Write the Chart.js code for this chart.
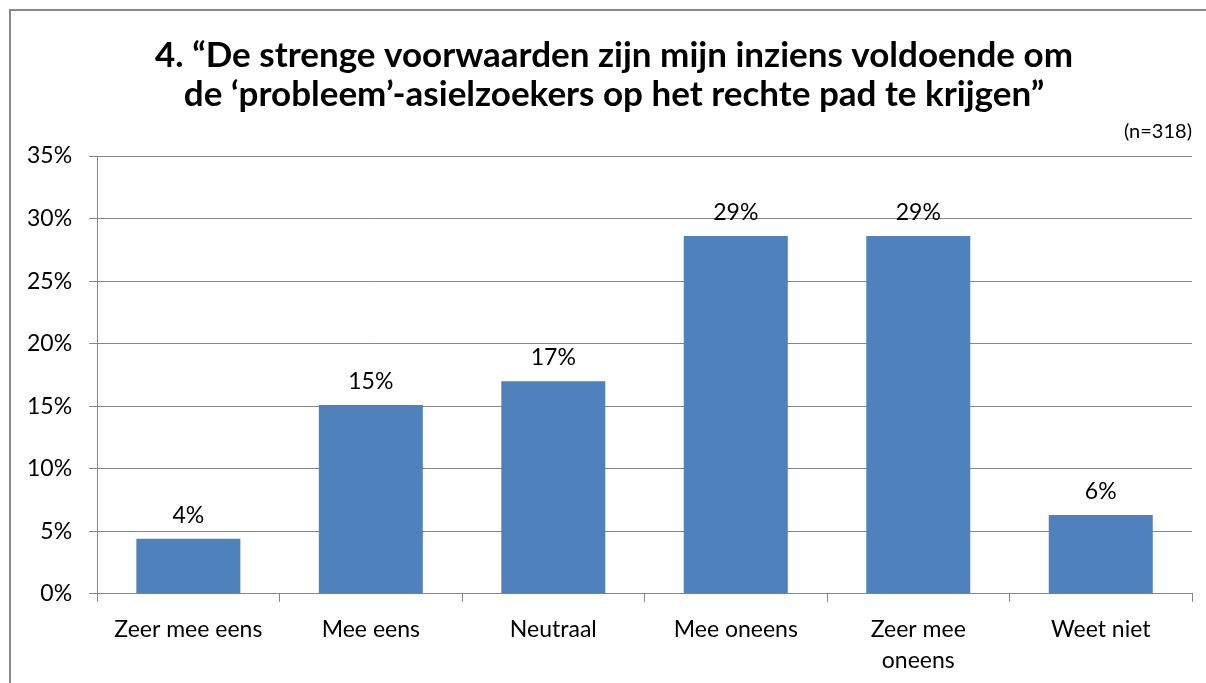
<!DOCTYPE html>
<html>
<head>
<meta charset="utf-8">
<script src="https://cdn.jsdelivr.net/npm/chart.js@4"></script>
<style>
html,body{margin:0;padding:0;background:#fff;overflow:hidden;}
#frame{position:absolute;left:9px;top:9px;width:1220px;height:700px;border:2px solid #8a8a8a;box-sizing:border-box;}
#wrap{position:absolute;left:0;top:0;width:1206px;height:688px;}
</style>
</head>
<body>
<div id="frame"></div>
<div id="wrap"><canvas id="c" width="1206" height="688"></canvas></div>
<script>
const categories = ['Zeer mee eens', 'Mee eens', 'Neutraal', 'Mee oneens', ['Zeer mee', 'oneens'], 'Weet niet'];
const values = [4.4, 15.1, 17.0, 28.6, 28.6, 6.3];
const valueLabels = ['4%', '15%', '17%', '29%', '29%', '6%'];
const titleLines = ['4. \u201cDe strenge voorwaarden zijn mijn inziens voldoende om', 'de \u2018probleem\u2019-asielzoekers op het rechte pad te krijgen\u201d'];
const subtitleText = '(n=318)';

const FONT = 'Lato, "Open Sans", sans-serif';

const valueLabelPlugin = {
  id: 'valueLabels',
  afterDatasetsDraw(chart) {
    const ctx = chart.ctx;
    const meta = chart.getDatasetMeta(0);
    ctx.save();
    ctx.font = '23px ' + FONT;
    ctx.fillStyle = '#000';
    ctx.textAlign = 'center';
    ctx.textBaseline = 'bottom';
    meta.data.forEach((bar, i) => {
      ctx.fillText(valueLabels[i], bar.x, bar.y - 12);
    });
    ctx.restore();
  }
};

const titlePlugin = {
  id: 'centeredTitle',
  afterDraw(chart) {
    const ctx = chart.ctx;
    ctx.save();
    ctx.font = 'bold 35px ' + FONT;
    ctx.fillStyle = '#000';
    ctx.textAlign = 'center';
    ctx.textBaseline = 'middle';
    titleLines.forEach((line, i) => {
      ctx.fillText(line, 614, 56 + i * 39.2);
    });
    ctx.restore();
  }
};

new Chart(document.getElementById('c'), {
  type: 'bar',
  data: {
    labels: categories,
    datasets: [{
      data: values,
      backgroundColor: '#4f81bd',
      borderWidth: 0,
      barPercentage: 0.57,
      categoryPercentage: 1.0
    }]
  },
  options: {
    responsive: false,
    animation: false,
    devicePixelRatio: 1,
    layout: { padding: { left: 10, right: 14, top: 120, bottom: 0 } },
    plugins: {
      legend: { display: false },
      tooltip: { enabled: false },
      title: { display: false },
      subtitle: {
        display: true,
        text: subtitleText,
        align: 'end',
        color: '#000',
        font: { family: FONT, size: 20, lineHeight: 1.2 },
        padding: { top: 0, bottom: 12 }
      }
    },
    scales: {
      x: {
        grid: { drawOnChartArea: false, drawTicks: true, tickLength: 8, color: '#868686', offset: true },
        border: { display: true, color: '#868686', width: 1 },
        ticks: { color: '#000', font: { family: FONT, size: 23, lineHeight: 1.35 }, padding: 12, maxRotation: 0, autoSkip: false }
      },
      y: {
        min: 0, max: 35,
        grid: { drawOnChartArea: true, drawTicks: true, tickLength: 8, color: '#868686' },
        border: { display: true, color: '#868686', width: 1 },
        ticks: { stepSize: 5, color: '#000', font: { family: FONT, size: 23 }, padding: 17, callback: v => v + '%' }
      }
    }
  },
  plugins: [valueLabelPlugin, titlePlugin]
});
</script>
</body>
</html>
